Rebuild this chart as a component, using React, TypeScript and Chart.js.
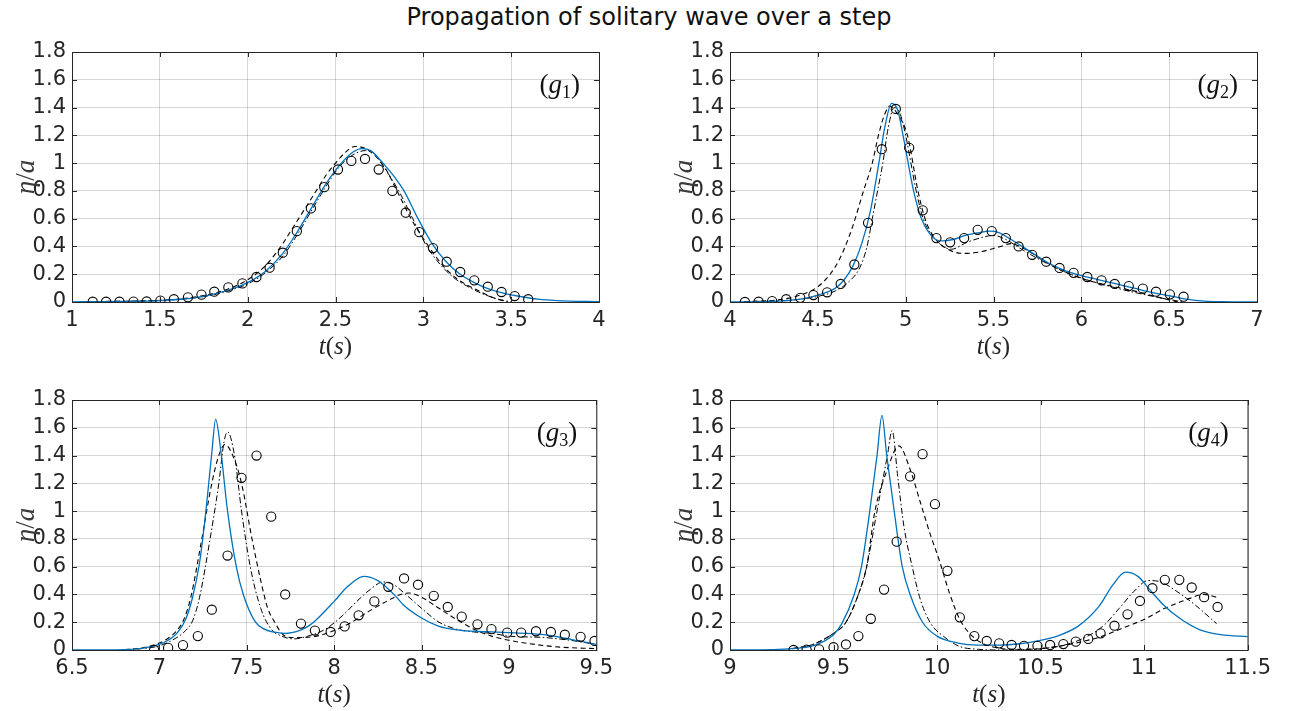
import React, { useEffect, useRef } from 'react';
import { Chart, registerables } from 'chart.js';

Chart.register(...registerables);

// ---------- tick values ----------
const yTicks = [0, 0.2, 0.4, 0.6, 0.8, 1, 1.2, 1.4, 1.6, 1.8];
const g1XTicks = [1, 1.5, 2, 2.5, 3, 3.5, 4];
const g2XTicks = [4, 4.5, 5, 5.5, 6, 6.5, 7];
const g3XTicks = [6.5, 7, 7.5, 8, 8.5, 9, 9.5];
const g4XTicks = [9, 9.5, 10, 10.5, 11, 11.5];

// ---------- (g1) ----------
const g1BlueT = [1.0, 1.2, 1.4, 1.5, 1.6, 1.7, 1.8, 1.9, 2.0, 2.1, 2.2, 2.28, 2.36, 2.44, 2.52, 2.6, 2.65, 2.7, 2.77, 2.83, 2.89, 2.97, 3.05, 3.13, 3.21, 3.29, 3.36, 3.45, 3.55, 3.65, 3.8, 4.0];
const g1BlueY = [0.001, 0.003, 0.006, 0.01, 0.018, 0.03, 0.055, 0.09, 0.14, 0.22, 0.35, 0.5, 0.67, 0.84, 0.98, 1.08, 1.105, 1.09, 1.0, 0.91, 0.8, 0.6, 0.42, 0.29, 0.2, 0.14, 0.1, 0.065, 0.04, 0.02, 0.008, 0.002];
const g1DashT = [1.1, 1.4, 1.6, 1.8, 1.9, 2.0, 2.1, 2.2, 2.24, 2.3, 2.39, 2.45, 2.5, 2.55, 2.61, 2.66, 2.72, 2.78, 2.85, 2.93, 3.03, 3.12, 3.2, 3.3, 3.4, 3.48];
const g1DashY = [0.003, 0.008, 0.02, 0.06, 0.1, 0.16, 0.26, 0.42, 0.5, 0.62, 0.8, 0.92, 1.0, 1.07, 1.12, 1.11, 1.06, 0.97, 0.8, 0.6, 0.4, 0.25, 0.16, 0.09, 0.03, 0.0];
const g1DotT = [1.1, 1.4, 1.6, 1.8, 1.9, 2.0, 2.1, 2.2, 2.29, 2.36, 2.44, 2.52, 2.6, 2.67, 2.72, 2.76, 2.86, 2.94, 3.02, 3.15, 3.27, 3.4, 3.5];
const g1DotY = [0.003, 0.007, 0.018, 0.05, 0.085, 0.13, 0.21, 0.33, 0.5, 0.65, 0.82, 0.97, 1.06, 1.09, 1.07, 1.0, 0.8, 0.6, 0.4, 0.2, 0.1, 0.03, 0.0];
const g1ExpT = [1.118, 1.194, 1.27, 1.35, 1.425, 1.503, 1.58, 1.66, 1.737, 1.81, 1.89, 1.97, 2.05, 2.125, 2.2, 2.28, 2.36, 2.436, 2.514, 2.59, 2.668, 2.746, 2.824, 2.9, 2.977, 3.055, 3.133, 3.21, 3.29, 3.367, 3.445, 3.52, 3.597];
const g1ExpY = [0.002, 0.002, 0.002, 0.003, 0.004, 0.01, 0.02, 0.034, 0.053, 0.074, 0.105, 0.134, 0.18, 0.247, 0.355, 0.51, 0.674, 0.827, 0.954, 1.016, 1.03, 0.954, 0.8, 0.643, 0.503, 0.388, 0.29, 0.216, 0.156, 0.11, 0.072, 0.043, 0.02];

// ---------- (g2) ----------
const g2BlueT = [4.0, 4.2, 4.3, 4.4, 4.5, 4.6, 4.65, 4.7, 4.75, 4.8, 4.85, 4.88, 4.92, 4.955, 4.985, 5.045, 5.09, 5.16, 5.21, 5.27, 5.34, 5.42, 5.48, 5.53, 5.6, 5.7, 5.8, 5.9, 6.0, 6.1, 6.2, 6.3, 6.4, 6.5, 6.6, 6.7, 6.8, 7.0];
const g2BlueY = [0.0, 0.003, 0.008, 0.02, 0.05, 0.1, 0.16, 0.26, 0.42, 0.66, 1.02, 1.25, 1.43, 1.38, 1.2, 0.8, 0.6, 0.46, 0.44, 0.45, 0.48, 0.5, 0.51, 0.5, 0.45, 0.37, 0.29, 0.23, 0.19, 0.16, 0.13, 0.1, 0.07, 0.045, 0.02, 0.006, 0.002, 0.0];
const g2DashT = [4.08, 4.3, 4.4, 4.5, 4.57, 4.62, 4.656, 4.7, 4.76, 4.81, 4.845, 4.88, 4.91, 4.95, 5.01, 5.07, 5.11, 5.16, 5.24, 5.33, 5.42, 5.54, 5.6, 5.65, 5.72, 5.78, 5.9, 6.0, 6.15, 6.3, 6.42, 6.55];
const g2DashY = [0.002, 0.02, 0.05, 0.11, 0.2, 0.3, 0.4, 0.55, 0.8, 1.0, 1.2, 1.35, 1.41, 1.36, 1.2, 0.8, 0.6, 0.47, 0.38, 0.35, 0.36, 0.4, 0.42, 0.4, 0.35, 0.3, 0.22, 0.17, 0.12, 0.08, 0.04, 0.0];
const g2DotT = [4.08, 4.3, 4.4, 4.5, 4.6, 4.68, 4.74, 4.78, 4.81, 4.84, 4.87, 4.9, 4.935, 4.97, 5.0, 5.06, 5.1, 5.17, 5.26, 5.35, 5.45, 5.5, 5.57, 5.66, 5.77, 5.9, 6.03, 6.17, 6.3, 6.45, 6.58];
const g2DotY = [0.002, 0.01, 0.02, 0.04, 0.08, 0.15, 0.25, 0.4, 0.6, 0.8, 1.0, 1.25, 1.4, 1.35, 1.2, 0.8, 0.6, 0.45, 0.38, 0.43, 0.47, 0.48, 0.45, 0.38, 0.3, 0.22, 0.16, 0.11, 0.07, 0.03, 0.0];
const g2ExpT = [4.085, 4.163, 4.24, 4.32, 4.4, 4.475, 4.553, 4.63, 4.708, 4.786, 4.864, 4.944, 5.02, 5.097, 5.175, 5.253, 5.333, 5.41, 5.49, 5.57, 5.643, 5.72, 5.8, 5.876, 5.956, 6.034, 6.115, 6.19, 6.27, 6.35, 6.425, 6.504, 6.582];
const g2ExpY = [0.0, 0.002, 0.007, 0.02, 0.03, 0.05, 0.07, 0.13, 0.27, 0.57, 1.1, 1.39, 1.11, 0.66, 0.46, 0.43, 0.46, 0.52, 0.51, 0.46, 0.4, 0.34, 0.29, 0.245, 0.21, 0.18, 0.156, 0.13, 0.115, 0.096, 0.074, 0.055, 0.038];

// ---------- (g3) ----------
const g3BlueT = [6.5, 6.7, 6.8, 6.9, 7.0, 7.05, 7.1, 7.15, 7.19, 7.23, 7.26, 7.28, 7.3, 7.322, 7.35, 7.39, 7.44, 7.48, 7.55, 7.6, 7.65, 7.72, 7.8, 7.85, 7.9, 8.0, 8.08, 8.17, 8.25, 8.3, 8.35, 8.4, 8.5, 8.6, 8.7, 8.8, 8.9, 9.0, 9.1, 9.2, 9.3, 9.4, 9.5];
const g3BlueY = [0.0, 0.0, 0.003, 0.012, 0.04, 0.07, 0.12, 0.22, 0.38, 0.63, 0.93, 1.17, 1.42, 1.66, 1.45, 1.0, 0.6, 0.4, 0.2, 0.15, 0.13, 0.12, 0.14, 0.17, 0.22, 0.35, 0.46, 0.53, 0.5, 0.45, 0.39, 0.32, 0.23, 0.17, 0.145, 0.135, 0.13, 0.125, 0.12, 0.11, 0.09, 0.065, 0.04];
const g3DashT = [6.8, 6.9, 7.0, 7.05, 7.1, 7.14, 7.18, 7.24, 7.3, 7.34, 7.375, 7.42, 7.47, 7.53, 7.58, 7.62, 7.66, 7.7, 7.75, 7.8, 7.9, 8.0, 8.1, 8.2, 8.3, 8.38, 8.43, 8.5, 8.6, 8.7, 8.8, 8.9, 9.0, 9.15, 9.3, 9.5];
const g3DashY = [0.003, 0.015, 0.05, 0.085, 0.14, 0.22, 0.38, 0.78, 1.2, 1.4, 1.48, 1.4, 1.2, 0.8, 0.5, 0.3, 0.2, 0.12, 0.09, 0.09, 0.1, 0.14, 0.2, 0.28, 0.35, 0.4, 0.41, 0.38, 0.3, 0.22, 0.15, 0.1, 0.07, 0.04, 0.02, 0.01];
const g3DotT = [6.8, 6.9, 7.0, 7.1, 7.15, 7.19, 7.23, 7.29, 7.34, 7.37, 7.39, 7.43, 7.47, 7.52, 7.58, 7.64, 7.7, 7.77, 7.85, 7.95, 8.05, 8.13, 8.21, 8.28, 8.34, 8.41, 8.5, 8.6, 8.7, 8.8, 8.9, 9.0, 9.2, 9.35, 9.5];
const g3DotY = [0.002, 0.01, 0.03, 0.09, 0.14, 0.21, 0.38, 0.8, 1.2, 1.5, 1.57, 1.4, 1.0, 0.6, 0.3, 0.15, 0.1, 0.08, 0.1, 0.15, 0.25, 0.35, 0.44, 0.49, 0.47, 0.4, 0.3, 0.2, 0.15, 0.13, 0.12, 0.1, 0.09, 0.07, 0.04];
const g3ExpT = [6.97, 7.05, 7.135, 7.22, 7.3, 7.39, 7.47, 7.556, 7.64, 7.72, 7.81, 7.89, 7.98, 8.06, 8.14, 8.23, 8.31, 8.4, 8.48, 8.57, 8.65, 8.73, 8.82, 8.9, 8.99, 9.07, 9.155, 9.24, 9.32, 9.41, 9.49];
const g3ExpY = [0.0, 0.015, 0.035, 0.1, 0.29, 0.68, 1.24, 1.4, 0.96, 0.4, 0.19, 0.14, 0.13, 0.17, 0.25, 0.35, 0.455, 0.515, 0.47, 0.39, 0.31, 0.24, 0.185, 0.15, 0.125, 0.125, 0.135, 0.13, 0.11, 0.095, 0.065];

// ---------- (g4) ----------
const g4BlueT = [9.0, 9.2, 9.3, 9.4, 9.45, 9.5, 9.54, 9.6, 9.635, 9.675, 9.71, 9.734, 9.757, 9.793, 9.832, 9.87, 9.93, 10.0, 10.1, 10.2, 10.3, 10.4, 10.5, 10.58, 10.68, 10.78, 10.85, 10.91, 10.97, 11.03, 11.09, 11.17, 11.27, 11.37, 11.5];
const g4BlueY = [0.0, 0.003, 0.01, 0.03, 0.06, 0.11, 0.19, 0.4, 0.6, 1.0, 1.4, 1.69, 1.4, 1.0, 0.6, 0.4, 0.2, 0.1, 0.05, 0.035, 0.035, 0.045, 0.07, 0.1, 0.17, 0.31, 0.47, 0.56, 0.53, 0.43, 0.33, 0.23, 0.145, 0.11, 0.096];
const g4DashT = [9.3, 9.4, 9.5, 9.56, 9.62, 9.66, 9.7, 9.76, 9.816, 9.87, 9.92, 9.97, 10.01, 10.06, 10.11, 10.17, 10.25, 10.4, 10.5, 10.6, 10.7, 10.8, 10.9, 11.0, 11.1, 11.2, 11.29, 11.35];
const g4DashY = [0.01, 0.04, 0.12, 0.2, 0.4, 0.6, 1.0, 1.3, 1.47, 1.3, 1.06, 0.82, 0.65, 0.41, 0.22, 0.1, 0.03, 0.005, 0.01, 0.03, 0.06, 0.1, 0.16, 0.22, 0.3, 0.36, 0.4, 0.38];
const g4DotT = [9.3, 9.4, 9.5, 9.56, 9.62, 9.66, 9.71, 9.76, 9.783, 9.81, 9.84, 9.88, 9.92, 9.97, 10.03, 10.11, 10.2, 10.3, 10.45, 10.6, 10.7, 10.8, 10.88, 10.95, 11.02, 11.08, 11.16, 11.25, 11.35];
const g4DotY = [0.01, 0.04, 0.12, 0.2, 0.4, 0.6, 1.0, 1.4, 1.58, 1.25, 0.89, 0.6, 0.36, 0.19, 0.1, 0.025, 0.005, 0.0, 0.005, 0.03, 0.08, 0.17, 0.3, 0.42, 0.5, 0.49, 0.42, 0.32, 0.19];
const g4ExpT = [9.307, 9.37, 9.43, 9.5, 9.56, 9.62, 9.68, 9.744, 9.805, 9.87, 9.93, 9.99, 10.05, 10.11, 10.18, 10.24, 10.3, 10.36, 10.42, 10.485, 10.546, 10.61, 10.67, 10.73, 10.79, 10.857, 10.92, 10.98, 11.04, 11.1, 11.17, 11.23, 11.29, 11.355];
const g4ExpY = [0.0, 0.003, 0.005, 0.02, 0.04, 0.1, 0.225, 0.435, 0.78, 1.25, 1.41, 1.05, 0.57, 0.235, 0.1, 0.065, 0.048, 0.036, 0.03, 0.03, 0.036, 0.043, 0.06, 0.08, 0.12, 0.175, 0.257, 0.353, 0.445, 0.505, 0.505, 0.45, 0.38, 0.31];

const TITLE = 'Propagation of solitary wave over a step';

// ---------- layout ----------
const PLOT_W = 527;
const PLOT_H = 250;
const PAD_L = 72; // y-axis box width
const PAD_T = 22;
const PAD_R = 20;
const X_AXIS_H = 60;
const CANVAS_W = PAD_L + PLOT_W + PAD_R;
const CANVAS_H = PAD_T + PLOT_H + X_AXIS_H;

const BLUE = '#0072BD';
const AX = '#262626';
const SANS = '"DejaVu Sans", sans-serif';
const SERIF = '"Liberation Serif", "DejaVu Serif", serif';

interface PanelSpec {
  sub: string;
  left: number;
  top: number;
  xMin: number;
  xMax: number;
  xTicks: number[];
  blueT: number[]; blueY: number[];
  dashT: number[]; dashY: number[];
  dotT: number[]; dotY: number[];
  expT: number[]; expY: number[];
}

const panels: PanelSpec[] = [
  { sub: '1', left: 72, top: 52, xMin: 1, xMax: 4, xTicks: g1XTicks, blueT: g1BlueT, blueY: g1BlueY, dashT: g1DashT, dashY: g1DashY, dotT: g1DotT, dotY: g1DotY, expT: g1ExpT, expY: g1ExpY },
  { sub: '2', left: 730, top: 52, xMin: 4, xMax: 7, xTicks: g2XTicks, blueT: g2BlueT, blueY: g2BlueY, dashT: g2DashT, dashY: g2DashY, dotT: g2DotT, dotY: g2DotY, expT: g2ExpT, expY: g2ExpY },
  { sub: '3', left: 72, top: 400, xMin: 6.5, xMax: 9.5, xTicks: g3XTicks, blueT: g3BlueT, blueY: g3BlueY, dashT: g3DashT, dashY: g3DashY, dotT: g3DotT, dotY: g3DotY, expT: g3ExpT, expY: g3ExpY },
  { sub: '4', left: 730, top: 400, xMin: 9, xMax: 11.5, xTicks: g4XTicks, blueT: g4BlueT, blueY: g4BlueY, dashT: g4DashT, dashY: g4DashY, dotT: g4DotT, dotY: g4DotY, expT: g4ExpT, expY: g4ExpY },
];

const pts = (t: number[], y: number[]) => t.map((v, i) => ({ x: v, y: y[i] }));

type Seg = { t: string; it?: boolean; s?: number; dy?: number };

function drawRich(ctx: CanvasRenderingContext2D, segs: Seg[], x: number, y: number, size: number, align: 'center' | 'right') {
  const fontOf = (sg: Seg) => `${sg.it ? 'italic ' : ''}${sg.s ?? size}px ${SERIF}`;
  let w = 0;
  for (const sg of segs) { ctx.font = fontOf(sg); w += ctx.measureText(sg.t).width; }
  let cx = align === 'center' ? x - w / 2 : x - w;
  ctx.textAlign = 'left';
  ctx.textBaseline = 'alphabetic';
  for (const sg of segs) {
    ctx.font = fontOf(sg);
    ctx.fillText(sg.t, cx, y + (sg.dy ?? 0));
    cx += ctx.measureText(sg.t).width;
  }
}

function Panel({ spec }: { spec: PanelSpec }) {
  const ref = useRef<HTMLCanvasElement>(null);
  useEffect(() => {
    const canvas = ref.current;
    if (!canvas) return;
    const decor = {
      id: 'decor',
      afterDraw(chart: any) {
        const { ctx, chartArea: a, scales } = chart;
        ctx.save();
        ctx.strokeStyle = AX;
        ctx.lineWidth = 1;
        const L = 5;
        ctx.beginPath();
        for (const t of scales.x.ticks) {
          const px = Math.round(scales.x.getPixelForValue(t.value)) + 0.5;
          ctx.moveTo(px, a.top); ctx.lineTo(px, a.top + L);
          ctx.moveTo(px, a.bottom); ctx.lineTo(px, a.bottom - L);
        }
        for (const t of scales.y.ticks) {
          const py = Math.round(scales.y.getPixelForValue(t.value)) + 0.5;
          ctx.moveTo(a.left, py); ctx.lineTo(a.left + L, py);
          ctx.moveTo(a.right, py); ctx.lineTo(a.right - L, py);
        }
        ctx.stroke();
        ctx.strokeRect(a.left + 0.5, a.top + 0.5, a.right - a.left, a.bottom - a.top);
        ctx.fillStyle = '#111';
        drawRich(ctx, [{ t: '(' }, { t: 'g', it: true }, { t: spec.sub, s: 18, dy: 5 }, { t: ')' }], a.right - 19, a.top + 41, 27, 'right');
        ctx.fillStyle = AX;
        drawRich(ctx, [{ t: 't', it: true }, { t: '(' }, { t: 's', it: true }, { t: ')' }], (a.left + a.right) / 2, a.bottom + 52, 25, 'center');
        ctx.save();
        ctx.translate(a.left - 38, (a.top + a.bottom) / 2);
        ctx.rotate(-Math.PI / 2);
        ctx.fillStyle = '#3a3a3a';
        drawRich(ctx, [{ t: 'η', it: true }, { t: '/' }, { t: 'a', it: true }], 0, 0, 27, 'center');
        ctx.restore();
        ctx.restore();
      },
    };
    const lineDs = (label: string, data: any[], color: string, width: number, dash: number[]) => ({
      label, data, borderColor: color, borderWidth: width, borderDash: dash,
      pointRadius: 0, fill: false, showLine: true, cubicInterpolationMode: 'monotone' as const,
    });
    const chart = new Chart(canvas, {
      type: 'scatter',
      data: {
        datasets: [
          {
            label: 'experiment', data: pts(spec.expT, spec.expY), showLine: false,
            pointStyle: 'circle', pointRadius: 4.6, pointBorderWidth: 1.1,
            pointBorderColor: '#000', pointBackgroundColor: 'rgba(0,0,0,0)',
          } as any,
          lineDs('model 1', pts(spec.blueT, spec.blueY), BLUE, 1.3, []),
          lineDs('model 2', pts(spec.dashT, spec.dashY), '#000', 1.1, [5, 3.5]),
          lineDs('model 3', pts(spec.dotT, spec.dotY), '#000', 1.0, [6, 2.5, 1.5, 2.5]),
        ],
      },
      options: {
        animation: false,
        responsive: false,
        maintainAspectRatio: false,
        layout: { padding: { left: 0, top: PAD_T, right: PAD_R, bottom: 0 } },
        plugins: { legend: { display: false }, tooltip: { enabled: false }, title: { display: false } },
        scales: {
          x: {
            type: 'linear', min: spec.xMin, max: spec.xMax,
            afterBuildTicks: (s: any) => { s.ticks = spec.xTicks.map((v) => ({ value: v })); },
            afterFit: (s: any) => { s.height = X_AXIS_H; },
            grid: { color: 'rgba(0,0,0,0.16)', lineWidth: 1, drawTicks: false },
            border: { display: false },
            ticks: {
              autoSkip: false, maxRotation: 0, padding: 6, color: AX,
              font: { family: SANS, size: 21 },
              callback: (v: any) => String(Number(Number(v).toFixed(2))),
            },
          },
          y: {
            type: 'linear', min: 0, max: 1.8,
            afterBuildTicks: (s: any) => { s.ticks = yTicks.map((v) => ({ value: v })); },
            afterFit: (s: any) => { s.width = PAD_L; },
            grid: { color: 'rgba(0,0,0,0.16)', lineWidth: 1, drawTicks: false },
            border: { display: false },
            ticks: {
              autoSkip: false, padding: 6, color: AX,
              font: { family: SANS, size: 21 },
              callback: (v: any) => String(Number(Number(v).toFixed(2))),
            },
          },
        },
      } as any,
      plugins: [decor],
    });
    return () => chart.destroy();
  }, [spec]);
  return (
    <canvas
      ref={ref}
      width={CANVAS_W}
      height={CANVAS_H}
      style={{ position: 'absolute', left: spec.left - PAD_L, top: spec.top - PAD_T, width: CANVAS_W, height: CANVAS_H }}
    />
  );
}

export default function App() {
  return (
    <div style={{ position: 'absolute', left: 0, top: 0, width: 1298, height: 711, background: '#fff', overflow: 'hidden' }}>
      <div
        style={{
          position: 'absolute', left: 0, top: 0, width: 1298, height: 34, lineHeight: '34px',
          textAlign: 'center', fontFamily: SANS, fontSize: 24, color: '#111', whiteSpace: 'nowrap',
        }}
      >
        {TITLE}
      </div>
      {panels.map((p) => (
        <Panel key={p.sub} spec={p} />
      ))}
    </div>
  );
}
